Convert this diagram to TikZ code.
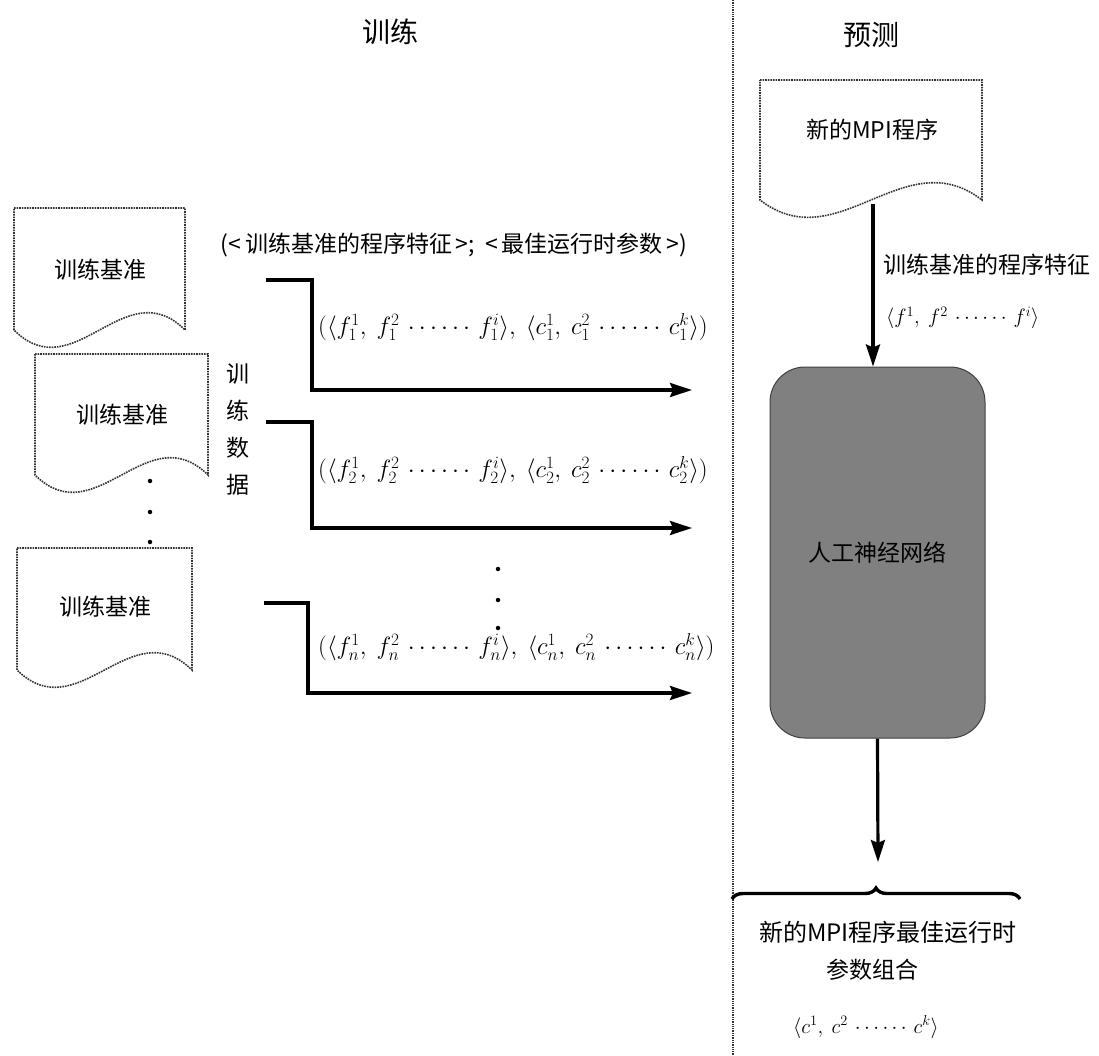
\documentclass[tikz,border=0pt]{standalone}
\usepackage{fontspec}
\setmainfont{Liberation Serif}
\newfontfamily\cjk{Noto Sans CJK SC}
\usetikzlibrary{arrows.meta,decorations.pathreplacing}
\tikzset{
  doc/.style={draw=black!80, densely dotted, line width=1.6pt},
  zh/.style={font=\cjk\fontsize{23}{27}\selectfont, inner sep=0pt},
  ttl/.style={font=\cjk\fontsize{28}{32}\selectfont, inner sep=0pt},
  lab/.style={font=\fontsize{20}{24}\selectfont, inner sep=0pt, anchor=west},
  biglab/.style={font=\fontsize{23.5}{28}\selectfont, inner sep=0pt, anchor=west},
  flow/.style={line width=3.2pt, -{Stealth[length=22pt,width=14pt,inset=3pt]}},
  nnbox/.style={rounded corners=35pt, fill=black!50, draw=black!75, line width=1pt,
    minimum width=215pt, minimum height=371pt, inner sep=0pt},
  dot/.style={circle, fill=black, inner sep=0pt, minimum size=4.5pt},
}
\newcommand\docpath[4]{%
  \draw[doc] (#1,#2) -- (#3,#2) -- (#3,#4)
    .. controls ({#3-0.35*(#3-#1)},{#4-60}) and ({#1+0.35*(#3-#1)},{#4+60}) .. (#1,#4) -- cycle;}
\newcommand\dd{\,\cdots\cdots\,}
\begin{document}
\begin{tikzpicture}[x=1pt,y=-1pt]
\useasboundingbox (0,0) rectangle (1099,1055);
% divider
\draw[densely dotted, line width=1.3pt, black!80] (733,0) -- (733,1055);
% titles
\node[ttl] (t1) at (390,32) {训练};
\node[ttl] (t2) at (871,35) {预测};
% training documents
\docpath{14}{208}{185}{330}
\node[zh] (d1) at (100,270) {训练基准};
\docpath{35}{354}{208}{475}
\node[zh] (d2) at (122,415) {训练基准};
\docpath{17}{548}{192}{670}
\node[zh] (d3) at (105,607) {训练基准};
\node[dot] (p1) at (150,481) {};
\node[dot] (p2) at (150,512) {};
\node[dot] (p3) at (150,542) {};
% vertical label
\node[zh, font=\cjk\fontsize{23}{37}\selectfont, align=center] (td) at (238,430) {训\\练\\数\\据};
% header
\node[zh] (hdr) at (454,245) {(<\,训练基准的程序特征\,>;\ \ <\,最佳运行时参数\,>)};
% connectors
\coordinate (s1) at (266,280); \coordinate (e1) at (692,390);
\coordinate (s2) at (266,422); \coordinate (e2) at (692,528);
\coordinate (s3) at (264,603); \coordinate (e3) at (692,693);
\draw[flow] (s1) -- ++(46,0) |- (e1);
\draw[flow] (s2) -- ++(46,0) |- (e2);
\draw[flow] (s3) -- ++(44,0) |- (e3);
\node[biglab] (l1) at (318,327) {$(\langle f_1^1,\ f_1^2\dd f_1^i\rangle,\ \langle c_1^1,\ c_1^2\dd c_1^k\rangle)$};
\node[biglab] (l2) at (318,470) {$(\langle f_2^1,\ f_2^2\dd f_2^i\rangle,\ \langle c_2^1,\ c_2^2\dd c_2^k\rangle)$};
\node[biglab] (l3) at (318,647) {$(\langle f_n^1,\ f_n^2\dd f_n^i\rangle,\ \langle c_n^1,\ c_n^2\dd c_n^k\rangle)$};
\node[dot] (q1) at (498,569) {};
\node[dot] (q2) at (498,600) {};
\node[dot] (q3) at (498,628) {};
% prediction side
\docpath{760}{80}{982}{200}
\node[zh] (nd) at (872,130) {新的MPI程序};
\coordinate (ndb) at (873,204);
\node[nnbox] (nn) at (877.5,552.5) {};
\node[zh] at (nn.center) {人工神经网络};
\draw[flow] (ndb) -- (ndb |- nn.north);
\node[zh, anchor=west] (pf) at (883,265) {训练基准的程序特征};
\node[lab] (pv) at (886,318) {$\langle f^1,\ f^2\dd f^i\rangle$};
\coordinate (otip) at (878,862);
\draw[flow] (nn.south) -- (otip);
\coordinate (bl) at (732,899); \coordinate (br) at (1020,899);
\draw[line width=3.4pt, decorate, decoration={brace, amplitude=11pt}] (bl) -- (br);
\node[zh, font=\cjk\fontsize{24}{28}\selectfont] (o1) at (888,932) {新的MPI程序最佳运行时};
\node[zh] (o2) at (872,970) {参数组合};
\node[lab, anchor=center] (o3) at (866,1027) {$\langle c^1,\ c^2\dd c^k\rangle$};
\end{tikzpicture}
\end{document}
